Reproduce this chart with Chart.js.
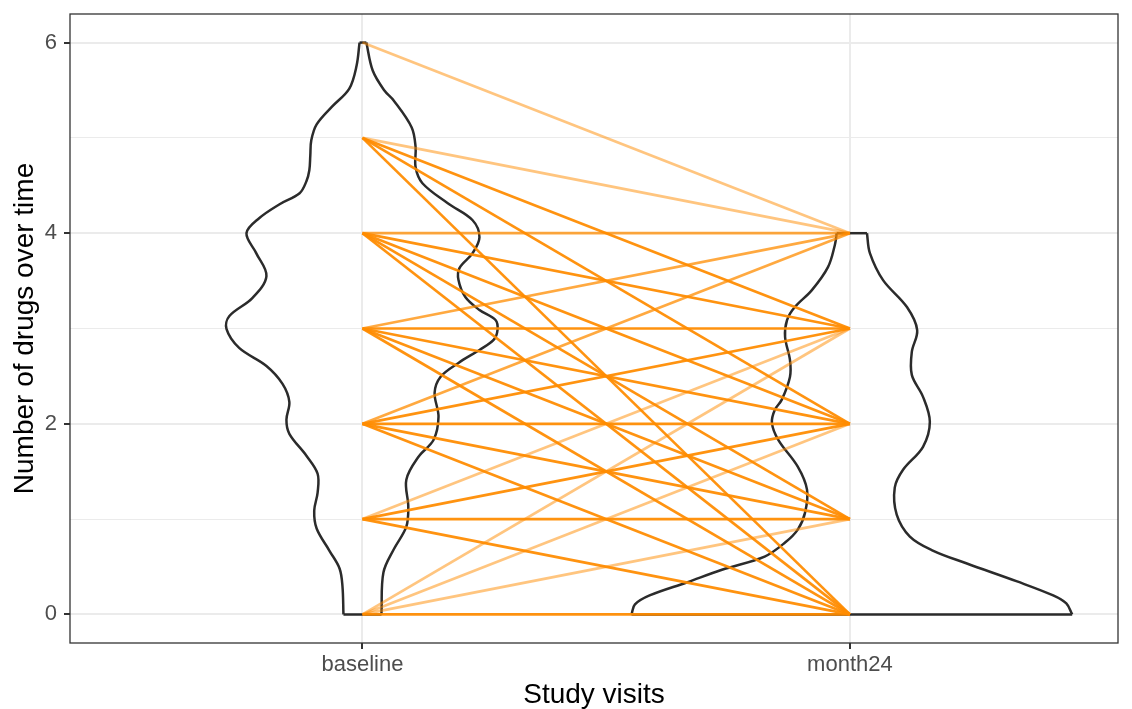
<!DOCTYPE html>
<html>
<head>
<meta charset="utf-8">
<script src="https://cdn.jsdelivr.net/npm/chart.js@4.4.1/dist/chart.umd.min.js"></script>
<style>
  html, body { margin: 0; padding: 0; background: #fff; }
</style>
</head>
<body>
<canvas id="chart" width="1132" height="709"></canvas>
<script>
// ── DATA ─────────────────────────────────────────────
const visits = ['baseline', 'month24'];
const yTickValues = [0, 1, 2, 3, 4, 5, 6];

// one entry per baseline -> month24 pair (patients with that change)
const fromDrugs  = [6, 5, 5, 5, 5, 4, 4, 4, 4, 4, 3, 3, 3, 3, 3, 2, 2, 2, 2, 2, 1, 1, 1, 1, 0, 0, 0, 0];
const toDrugs    = [4, 4, 3, 2, 0, 4, 3, 2, 1, 0, 4, 3, 2, 1, 0, 4, 3, 2, 1, 0, 3, 2, 1, 0, 3, 2, 1, 0];
const pairCounts = [1, 1, 4, 4, 4, 2, 4, 4, 4, 4, 2, 4, 4, 4, 4, 2, 4, 4, 4, 4, 1, 4, 4, 4, 1, 1, 1, 4];

// violin outlines [x, y] in data units
const baselineLeft = [
    [0.961, 0], [0.959, 0.293], [0.953, 0.482], [0.932, 0.670], [0.906, 0.901], [0.901, 1.089],
    [0.908, 1.277], [0.908, 1.476], [0.885, 1.665], [0.850, 1.895], [0.844, 2.042], [0.850, 2.230],
    [0.836, 2.419], [0.803, 2.607], [0.747, 2.796], [0.721, 2.995], [0.727, 3.131], [0.774, 3.319],
    [0.803, 3.550], [0.782, 3.791], [0.762, 4.000], [0.788, 4.157], [0.830, 4.304], [0.871, 4.419],
    [0.885, 4.545], [0.891, 4.660], [0.893, 4.817], [0.895, 4.974], [0.906, 5.141], [0.938, 5.330],
    [0.973, 5.518], [0.988, 5.759], [0.994, 6.000],
];
const baselineRight = [
    [1.008, 6.000], [1.021, 5.707], [1.045, 5.497], [1.064, 5.393], [1.101, 5.110], [1.109, 4.901],
    [1.109, 4.691], [1.123, 4.524], [1.175, 4.314], [1.226, 4.136], [1.240, 3.958], [1.226, 3.791],
    [1.199, 3.634], [1.197, 3.508], [1.211, 3.330], [1.240, 3.194], [1.273, 3.089], [1.277, 2.984],
    [1.269, 2.880], [1.240, 2.775], [1.197, 2.639], [1.160, 2.492], [1.148, 2.325], [1.156, 2.073],
    [1.146, 1.832], [1.115, 1.654], [1.090, 1.414], [1.094, 1.131], [1.090, 0.921], [1.064, 0.681],
    [1.043, 0.440], [1.039, 0.021], [1.039, 0],
];
const month24Left = [
    [1.552, 0], [1.559, 0.105], [1.589, 0.199], [1.665, 0.335], [1.739, 0.471], [1.825, 0.607],
    [1.867, 0.754], [1.893, 0.890], [1.908, 1.068], [1.912, 1.309], [1.893, 1.550], [1.853, 1.832],
    [1.840, 2.010], [1.846, 2.147], [1.860, 2.251], [1.877, 2.492], [1.877, 2.670], [1.867, 2.911],
    [1.871, 3.089], [1.887, 3.225], [1.922, 3.403], [1.955, 3.644], [1.969, 3.874], [1.973, 4.000],
];
const month24Right = [
    [2.035, 4.000], [2.041, 3.791], [2.068, 3.508], [2.117, 3.225], [2.138, 2.984], [2.127, 2.754],
    [2.127, 2.513], [2.150, 2.283], [2.164, 2.021], [2.150, 1.759], [2.109, 1.518], [2.092, 1.330],
    [2.096, 1.047], [2.123, 0.817], [2.170, 0.670], [2.240, 0.534], [2.343, 0.346], [2.417, 0.199],
    [2.444, 0.115], [2.456, 0],
];

// ── HELPERS ──────────────────────────────────────────
const FONT = "'Liberation Sans', Arial, sans-serif";

function outline(points, tension) {
    return {
        data: points.map(([x, y]) => ({ x, y })),
        showLine: true,
        pointRadius: 0,
        borderColor: '#2b2b2b',
        borderWidth: 2.5,
        tension: tension,
        fill: false,
        order: 2,
    };
}

function flat(a, b) {
    return outline([a, b], 0);
}

const violinSets = [
    outline(baselineLeft, 0.35),
    flat(baselineLeft[baselineLeft.length - 1], baselineRight[0]),
    outline(baselineRight, 0.35),
    flat(baselineRight[baselineRight.length - 1], baselineLeft[0]),
    outline(month24Left, 0.35),
    flat(month24Left[month24Left.length - 1], month24Right[0]),
    outline(month24Right, 0.35),
    flat(month24Right[month24Right.length - 1], month24Left[0]),
];

const pairSets = fromDrugs.map((from, i) => {
    const alpha = 1 - Math.pow(0.5, pairCounts[i]);
    return {
        data: [{ x: 1, y: from }, { x: 2, y: toDrugs[i] }],
        showLine: true,
        pointRadius: 0,
        borderColor: `rgba(255,140,0,${alpha.toFixed(3)})`,
        borderWidth: 2.7,
        tension: 0,
        order: 1,
    };
});

const panelBorder = {
    id: 'panelBorder',
    afterDatasetsDraw(chart) {
        const { ctx, chartArea: a } = chart;
        ctx.save();
        ctx.strokeStyle = '#333333';
        ctx.lineWidth = 1.3;
        ctx.strokeRect(a.left, a.top, a.right - a.left, a.bottom - a.top);
        ctx.restore();
    },
};

// ── CHART ────────────────────────────────────────────
new Chart(document.getElementById('chart'), {
    type: 'scatter',
    data: { datasets: [...violinSets, ...pairSets] },
    plugins: [panelBorder],
    options: {
        responsive: false,
        animation: false,
        layout: { padding: { left: 0, top: 14, right: 14, bottom: 0 } },
        plugins: { legend: { display: false }, tooltip: { enabled: false } },
        scales: {
            x: {
                type: 'linear',
                min: 0.4,
                max: 2.55,
                afterBuildTicks: s => { s.ticks = visits.map((v, i) => ({ value: i + 1 })); },
                afterFit: s => { s.height = 66; s.paddingLeft = 0; s.paddingRight = 0; },
                border: { display: false },
                grid: {
                    color: '#ebebeb',
                    lineWidth: 2,
                    tickColor: '#333333',
                    tickLength: 6,
                    tickWidth: 2,
                },
                ticks: {
                    callback: v => visits[v - 1],
                    color: '#4d4d4d',
                    font: { family: FONT, size: 22 },
                    padding: 3,
                    maxRotation: 0,
                },
                title: {
                    display: true,
                    text: 'Study visits',
                    color: '#000',
                    font: { family: FONT, size: 28, lineHeight: 1 },
                    padding: { top: 0, bottom: 0 },
                },
            },
            y: {
                min: -0.3,
                max: 6.3,
                afterBuildTicks: s => { s.ticks = yTickValues.map(v => ({ value: v })); },
                afterFit: s => { s.width = 70; s.paddingTop = 0; s.paddingBottom = 0; },
                border: { display: false },
                grid: {
                    color: '#ebebeb',
                    lineWidth: c => (c.tick && c.tick.value % 2 === 0 ? 2 : 1),
                    tickColor: c => (c.tick && c.tick.value % 2 === 0 ? '#333333' : 'rgba(0,0,0,0)'),
                    tickLength: 6,
                    tickWidth: 2,
                },
                ticks: {
                    callback: v => (v % 2 === 0 ? String(v) : ''),
                    color: '#4d4d4d',
                    font: { family: FONT, size: 22 },
                    padding: 7,
                },
                title: {
                    display: true,
                    text: 'Number of drugs over time',
                    color: '#000',
                    font: { family: FONT, size: 28, lineHeight: 1 },
                    padding: { top: 11, bottom: 0 },
                },
            },
        },
    },
});
</script>
</body>
</html>
